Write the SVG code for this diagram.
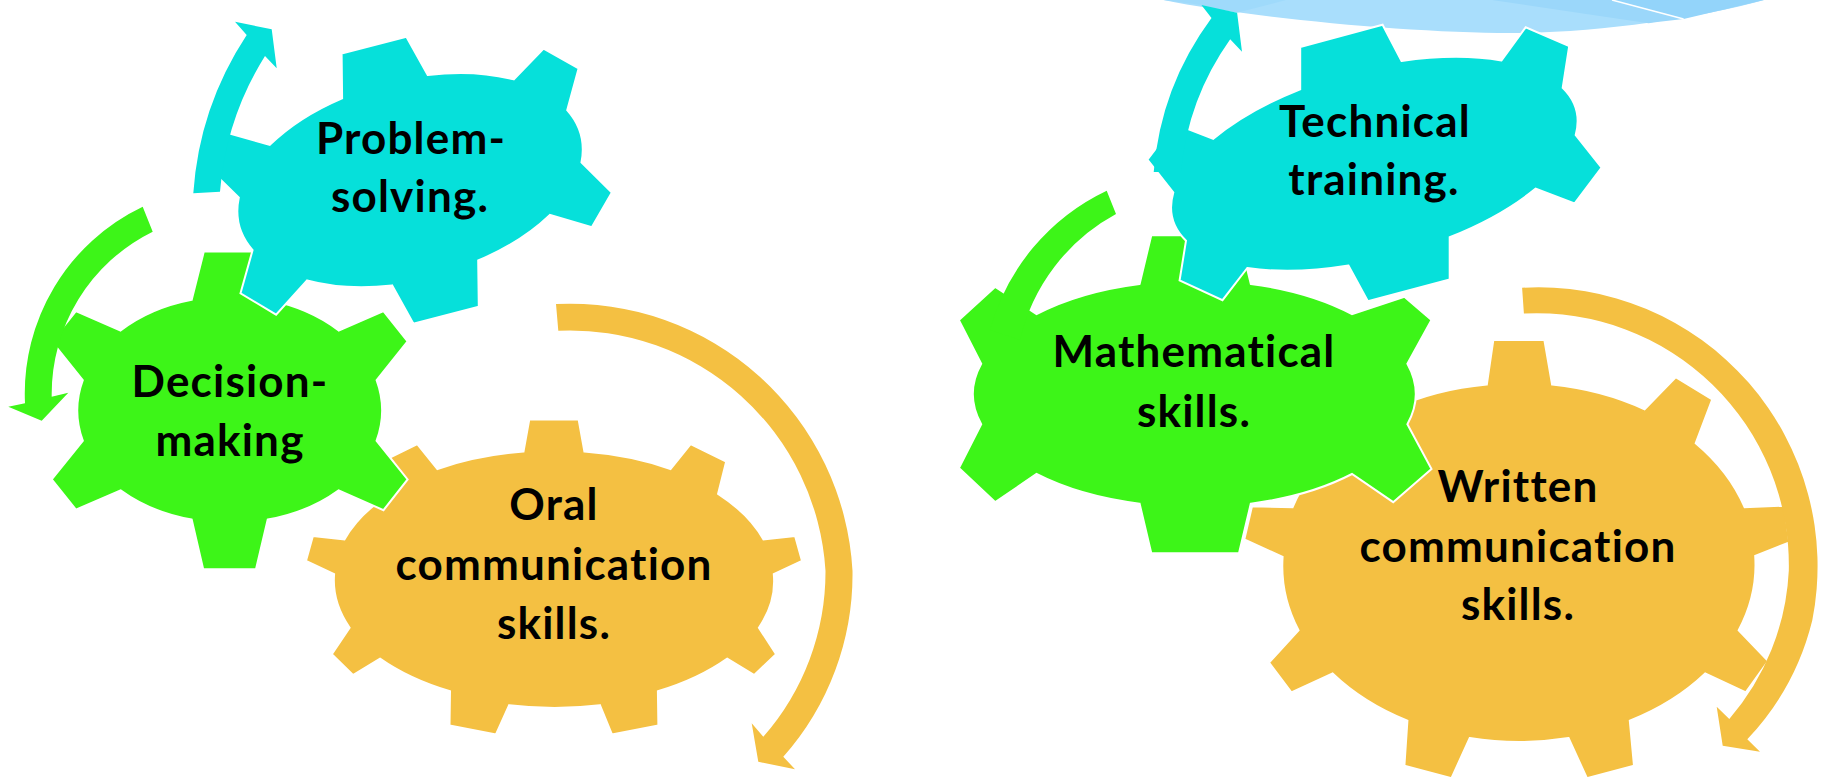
<svg xmlns="http://www.w3.org/2000/svg" width="1823" height="778" viewBox="0 0 1823 778">
<style>
.cy{fill:#06E0DA;stroke:#FFFFFF;stroke-width:2;stroke-linejoin:miter}
.gr{fill:#3DF518;stroke:#FFFFFF;stroke-width:2;stroke-linejoin:miter}
.or{fill:#F4C042;stroke:#FFFFFF;stroke-width:2;stroke-linejoin:miter}
.acy{fill:#06E0DA}
.agr{fill:#3DF518}
.aor{fill:#F4C042}
.lbl{font-family:"Lato","Open Sans","DejaVu Sans",sans-serif;font-weight:700;font-size:44px;letter-spacing:1.2px;font-variant-ligatures:none;fill:#000000;text-anchor:middle}
</style>
<rect width="1823" height="778" fill="#FFFFFF"/>
<g id="blue-shape">
<path d="M1163.5,0 C1250,18 1420,34 1520,33 C1600,32 1700,18 1764,0 Z" fill="#A9DEFC"/>
<path d="M1163.5,0 L1201.4,5 L1237.1,12.7 L1286,0 Z" fill="#9FDAFB"/>
<path d="M1492,0 L1648.6,23.3 C1660,21.5 1672,20.5 1683.6,19 L1612,0 Z" fill="#9BD7FA"/>
<path d="M1612,0 L1683.6,19 C1712,12 1740,6 1764,0 Z" fill="#93D4FA"/>
<line x1="1612" y1="0" x2="1683.6" y2="19" stroke="#FFFFFF" stroke-width="1.5"/>
</g>
<g id="node-oral">
<path class="or" d="M523.5,451.6 L529.3,419.4 L578.6,419.4 L584.4,451.6 A222 128 0 0 1 670.5,469 L690.6,444.2 L726.2,461.5 L718.1,493.8 A222 128 0 0 1 763.5,539.5 L795.1,536 L802,560.8 L773.8,574.2 A222 128 0 0 1 758.9,627.8 L776.1,654.1 L754.3,675 L727.3,658.6 A222 128 0 0 1 657.9,691.3 L658.4,725.6 L611.9,734.5 L599.9,705.2 A222 128 0 0 1 509.2,705.2 L496,734.5 L449.5,725.6 L450,691.3 A222 128 0 0 1 380,658.6 L353,675 L331.8,654.1 L349.6,627.8 A222 128 0 0 1 334.1,574.2 L306,560.8 L312.9,536 L344.4,539.5 A222 128 0 0 1 389.8,493.8 L381.7,461.5 L417.3,444.2 L437.4,469 A222 128 0 0 1 523.5,451.6 Z"/>
<text class="lbl" x="554" y="520">Oral</text>
<text class="lbl" x="554" y="580">communication</text>
<text class="lbl" x="554" y="639">skills.</text>
</g>
<g id="node-written">
<path class="or" d="M1486.8,384.6 L1493.3,340 L1544.4,340 L1552.1,384.6 A237 177 0 0 1 1644.6,409.4 L1675.7,377.2 L1712.2,399.5 L1695.7,443.2 A237 177 0 0 1 1744.6,507.2 L1784.6,505.7 L1789.3,542.4 L1755.2,555.8 A237 177 0 0 1 1738.7,630.3 L1768.2,661 L1745.8,692.3 L1705.2,673.4 A237 177 0 0 1 1629.8,720.6 L1634,765.8 L1586.9,778.2 L1568.6,738 A237 177 0 0 1 1469.7,738 L1451.5,778.2 L1404.4,765.8 L1407.4,720.6 A237 177 0 0 1 1332.6,673.4 L1291.4,692.3 L1269,662.5 L1298.5,630.3 A237 177 0 0 1 1282.6,556.8 L1244.3,539.5 L1252,506.2 L1292.6,507.2 A237 177 0 0 1 1340.3,443.2 L1323.8,399.5 L1360.3,377.2 L1391.4,409.4 A237 177 0 0 1 1486.8,384.6 Z"/>
<text class="lbl" x="1518" y="502">Written</text>
<text class="lbl" x="1518" y="562">communication</text>
<text class="lbl" x="1518" y="620">skills.</text>
</g>
<g id="node-decision">
<path class="gr" d="M191.7,299.8 L203.8,251.6 L255.6,251.6 L267.7,299.8 A152 114 0 0 1 338.7,330.5 L383.5,311.2 L407.6,341.4 L376.6,380.1 A152 114 0 0 1 376.6,440.7 L407.6,479.4 L383.5,510.2 L338.7,490.3 A152 114 0 0 1 267.7,519.6 L256,569.2 L203.2,569.2 L191.7,519.6 A152 114 0 0 1 120.6,490.3 L75.9,509.7 L51.7,479.4 L82.8,440.7 A152 114 0 0 1 82.8,380.1 L51.7,341.4 L75.9,311.2 L120.6,330.5 A152 114 0 0 1 191.7,299.8 Z"/>
<text class="lbl" x="230" y="397">Decision-</text>
<text class="lbl" x="230" y="456">making</text>
</g>
<g id="node-math">
<path class="gr" d="M1139.6,283.9 L1151.3,235.2 L1239,235.2 L1250.8,283.9 A218 111 0 0 1 1352,314.1 L1404.4,296.8 L1431.5,320.1 L1407.4,363.8 A218 111 0 0 1 1407.4,424.3 L1431.5,469 L1393.2,502.2 L1352,474 A218 111 0 0 1 1250.8,503.7 L1239,553.3 L1151.3,553.3 L1139.6,503.7 A218 111 0 0 1 1036.5,474 L995.3,502.2 L958.9,468 L981.2,424.3 A218 111 0 0 1 981.2,363.8 L958.9,320.1 L995.3,286.8 L1036.5,314.1 A218 111 0 0 1 1139.6,283.9 Z"/>
<text class="lbl" x="1194" y="367">Mathematical</text>
<text class="lbl" x="1194" y="427">skills.</text>
</g>
<g id="node-problem">
<path class="cy" d="M342.1,98.3 L341.6,53.6 L406.4,36.7 L427.7,74.9 A177 100 -15 0 1 513.8,79.4 L543.6,48.6 L578.6,68.5 L567.2,110.2 A177 100 -15 0 1 581.5,162.3 L611.9,192.6 L591.8,227.3 L549.9,214.9 A177 100 -15 0 1 478.2,260.5 L478.8,306.7 L413.3,323.6 L392.1,285.4 A177 100 -15 0 1 307.1,280.4 L276.1,314.6 L240.5,293.3 L252.6,250.1 A177 100 -15 0 1 238.8,197.5 L208.1,167.4 L227.9,133 L269.8,144.9 A177 100 -15 0 1 342.1,98.3 Z"/>
<text class="lbl" x="411" y="154">Problem-</text>
<text class="lbl" x="410" y="212">solving.</text>
</g>
<g id="node-technical">
<path class="cy" d="M1300.2,89.3 L1300.2,47.1 L1382.6,24.8 L1401.5,61 A209 95 -15 0 1 1501.5,60.5 L1525.7,27.3 L1569.2,46.2 L1562.7,87.8 A209 95 -15 0 1 1575.7,135 L1601.6,167.7 L1574.5,203.5 L1535.7,188.6 A209 95 -15 0 1 1449.7,237.2 L1449.7,279.4 L1367.9,301.2 L1348.5,265.5 A209 95 -15 0 1 1247.3,268 L1222.5,300.2 L1179.6,280.4 L1186,240.7 A209 95 -15 0 1 1173.3,192.4 L1147.4,159.7 L1174.5,123.9 L1213.3,138.8 A209 95 -15 0 1 1300.2,89.3 Z"/>
<text class="lbl" x="1375" y="137">Technical</text>
<text class="lbl" x="1374" y="195">training.</text>
</g>
<g id="connectors">
<path class="acy" d="M193.3,193.3 A328 328 0 0 1 246.7,35 L235,21.7 L271.7,29.3 L276.7,68.3 L265,56 A302 302 0 0 0 220,191.7 Z"/>
<path class="agr" d="M142.7,206.7 A207 207 0 0 0 25,403.3 L8.3,406.7 L41.7,420.7 L68.3,392.7 L51.7,396.7 A181 181 0 0 1 152.7,231.7 Z"/>
<path class="aor" d="M556,304 A283 283 0 0 1 852.5,570.7 A275 275 0 0 1 783.3,756.7 L795,769.3 L758.3,761.7 L751.7,723.3 L763.3,736.7 A250 250 0 0 0 825.5,570.7 A256 256 0 0 0 558.3,330.7 Z"/>
<path class="acy" d="M1153.7,172 A299 299 0 0 1 1211.5,18 L1201.4,5 L1237.1,12.7 L1242,51.7 L1230.2,39.3 A272 272 0 0 0 1181,172 Z"/>
<path class="agr" d="M1106.7,190.7 A218 218 0 0 0 990,330 L1020,340 A193 193 0 0 1 1116,214 Z"/>
<path class="aor" d="M1522.1,287.8 A279 279 0 0 1 1812.3,620.3 A265 265 0 0 1 1747.3,739.3 L1760,751.7 L1722.7,745.7 L1716.7,706.7 L1729.3,719 A245 245 0 0 0 1788.8,570.7 A252 252 0 0 0 1523.9,313.6 Z"/>
</g>
</svg>
